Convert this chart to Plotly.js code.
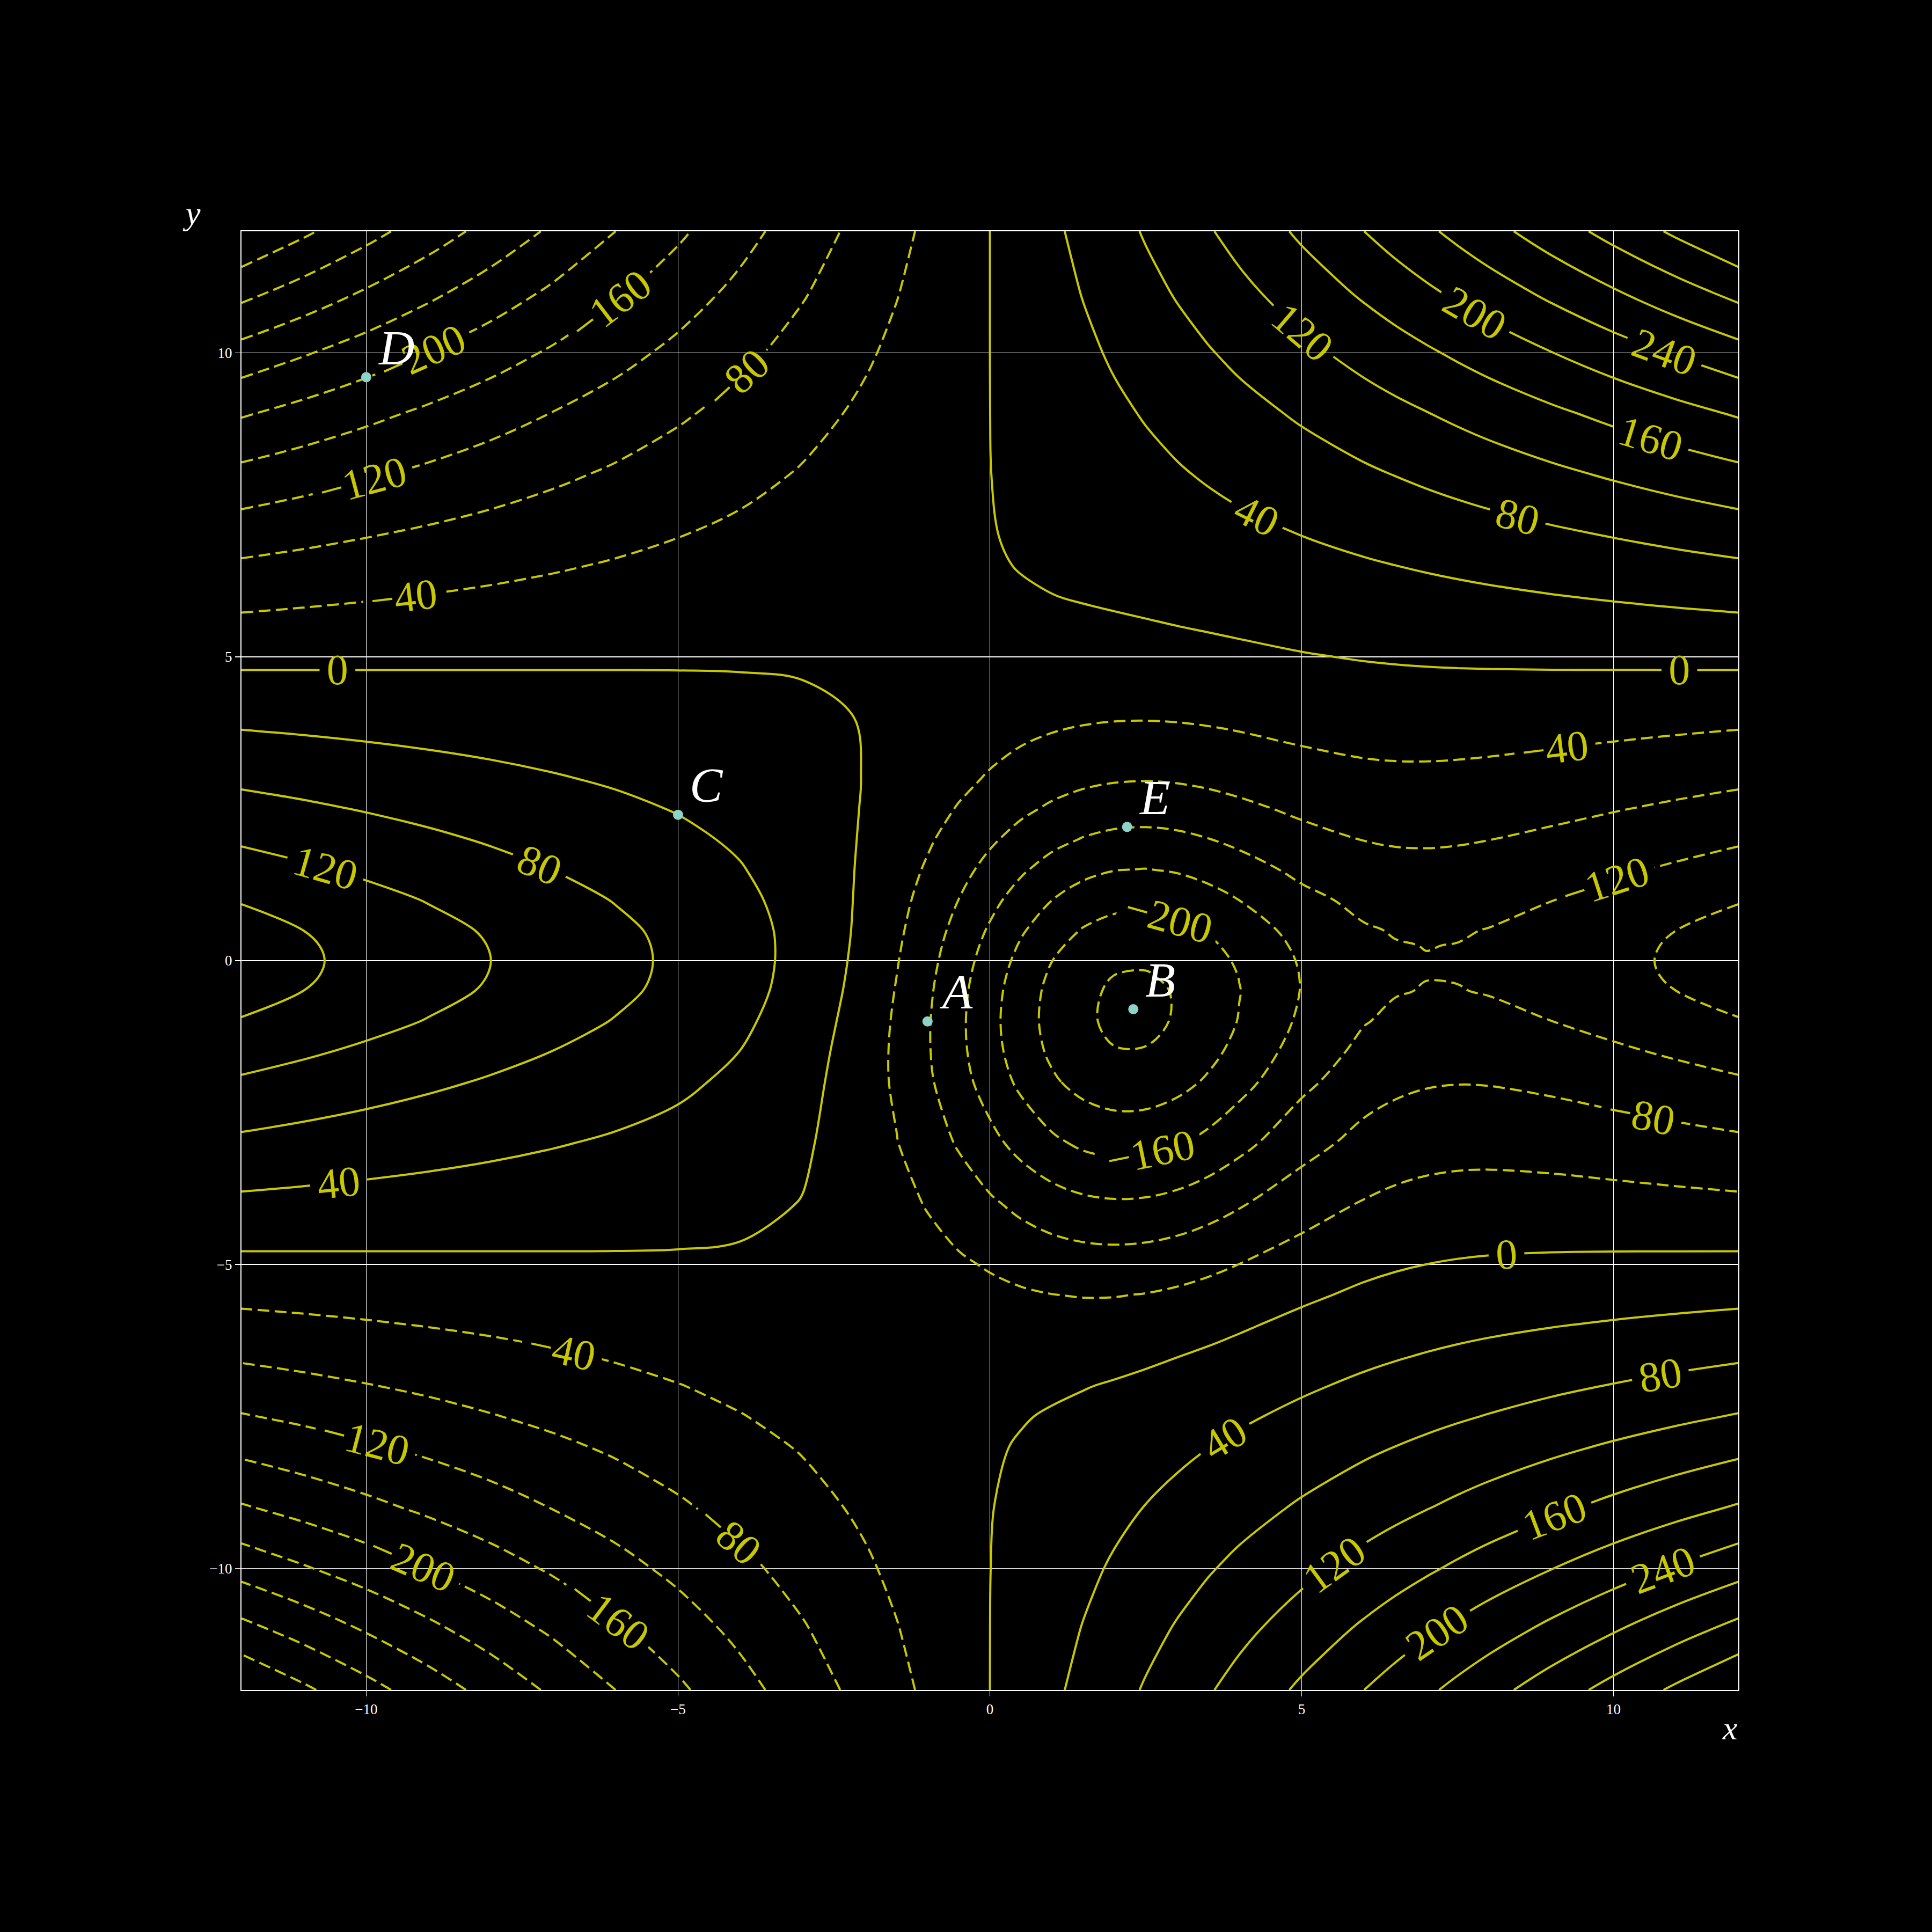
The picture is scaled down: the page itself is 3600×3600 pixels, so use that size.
<!DOCTYPE html>
<html>
<head>
<meta charset="utf-8">
<script src="https://cdn.plot.ly/plotly-3.0.1.min.js"></script>
<style>html,body{margin:0;padding:0;background:#000;}</style>
</head>
<body>
<div id="chart" style="width:3600px;height:3600px;"></div>
<script>
// Grid of sample positions (x columns, y rows)
const xs = [-12,-11,-10,-9,-8,-7,-6,-5,-4,-3,-2,-1.5,-1,-0.5,0,0.5,1,1.5,2,2.5,3,3.5,4,5,6,6.5,7,7.5,8,9,10,11,12];
const ys = [-12,-11,-10,-9,-8,-7.5,-7,-6.5,-6,-5.5,-5,-4,-3,-2,-1.5,-1,-0.5,-0.25,0,0.25,0.5,1,1.5,2,2.5,3,4,5,5.5,6,6.5,7,8,9,10,11,12];
// Surface values estimated from the contour map (one row per y)
const z = [
[-399.96,-366.63,-333.3,-299.97,-266.64,-233.31,-199.98,-166.65,-133.32,-99.99,-66.66,-50.0,-33.33,-16.68,-0.01,16.65,33.32,49.98,66.64,83.31,99.97,116.64,133.31,166.64,199.98,216.65,233.31,249.97,266.64,299.97,333.3,366.63,399.96],
[-331.8,-304.15,-276.5,-248.85,-221.2,-193.55,-165.9,-138.25,-110.6,-82.95,-55.3,-41.51,-27.69,-13.88,-0.07,13.75,27.56,41.38,55.2,69.03,82.86,96.7,110.53,138.21,165.88,179.72,193.55,207.37,221.2,248.85,276.5,304.15,331.8],
[-265.44,-243.32,-221.2,-199.08,-176.96,-154.84,-132.72,-110.6,-88.48,-66.4,-44.33,-33.31,-22.3,-11.29,-0.29,10.71,21.73,32.76,43.81,54.88,65.97,77.08,88.19,110.43,132.64,143.73,154.81,165.88,176.95,199.08,221.2,243.32,265.44],
[-203.64,-186.67,-169.7,-152.73,-135.77,-118.79,-101.82,-84.86,-67.92,-51.04,-34.26,-25.93,-17.62,-9.35,-1.08,7.2,15.52,23.9,32.34,40.87,49.47,58.13,66.82,84.21,101.51,110.1,118.66,127.2,135.72,152.72,169.7,186.67,203.64],
[-149.28,-136.84,-124.4,-111.96,-99.52,-87.08,-74.65,-62.24,-49.9,-37.73,-25.9,-20.15,-14.51,-8.95,-3.42,2.15,7.84,13.7,19.81,26.16,32.75,39.52,46.4,60.18,73.65,80.22,86.68,93.07,99.39,111.93,124.39,136.84,149.28],
[-122.64,-112.42,-102.2,-91.98,-81.76,-71.54,-61.33,-51.16,-41.11,-31.36,-22.16,-17.84,-13.7,-9.69,-5.74,-1.73,2.48,7.0,11.91,17.25,22.98,29.02,35.23,47.7,59.65,65.35,70.87,76.26,81.54,91.92,102.19,112.42,122.64],
[-98.04,-89.87,-81.7,-73.53,-65.37,-57.19,-49.04,-40.95,-33.05,-25.64,-19.13,-16.32,-13.79,-11.5,-9.29,-6.97,-4.35,-1.21,2.55,7.01,12.09,17.68,23.55,35.36,46.32,51.36,56.11,60.65,65.0,73.44,81.68,89.87,98.04],
[-74.28,-68.09,-61.9,-55.71,-49.52,-43.34,-37.17,-31.11,-25.34,-20.32,-16.71,-15.61,-14.94,-14.64,-14.46,-14.11,-13.29,-11.68,-9.09,-5.42,-0.77,4.67,10.54,22.4,32.94,37.51,41.65,45.44,48.97,55.56,61.87,68.08,74.28],
[-51.96,-47.63,-43.3,-38.97,-34.64,-30.32,-26.03,-21.89,-18.19,-15.62,-15.15,-15.97,-17.44,-19.45,-21.65,-23.61,-24.85,-24.92,-23.5,-20.47,-15.97,-10.31,-3.98,8.84,19.69,24.07,27.79,31.0,33.81,38.75,43.25,47.62,51.96],
[-30.12,-27.61,-25.1,-22.59,-20.08,-17.58,-15.13,-12.89,-11.29,-11.31,-14.37,-17.41,-21.4,-26.15,-31.19,-35.88,-39.53,-41.49,-41.31,-38.81,-34.19,-27.9,-20.64,-5.9,6.0,10.44,13.94,16.7,18.89,22.27,25.03,27.6,30.12],
[-8.88,-8.14,-7.4,-6.66,-5.92,-5.2,-4.54,-4.17,-4.7,-7.47,-14.45,-20.02,-26.94,-34.9,-43.26,-51.14,-57.56,-61.66,-62.78,-60.69,-55.65,-48.29,-39.6,-21.89,-8.12,-3.35,0.14,2.59,4.27,6.22,7.3,8.12,8.88],
[31.92,29.26,26.6,23.94,21.28,18.59,15.78,12.5,7.67,-1.01,-16.9,-28.41,-42.23,-57.82,-74.11,-89.58,-102.54,-111.53,-115.41,-113.79,-107.11,-96.48,-83.55,-57.14,-37.48,-31.27,-27.25,-25.02,-24.11,-24.7,-26.77,-29.29,-31.92],
[72.36,66.33,60.3,54.27,48.23,42.16,35.92,28.97,19.75,4.88,-20.59,-38.55,-59.91,-83.87,-108.87,-132.66,-152.76,-167.02,-173.78,-172.46,-163.72,-149.16,-131.23,-94.55,-67.79,-59.74,-54.89,-52.68,-52.4,-55.39,-60.54,-66.37,-72.37],
[114.84,105.27,95.7,86.13,76.55,66.93,57.09,46.36,32.78,12.07,-21.98,-45.6,-73.49,-104.66,-137.14,-168.09,-194.4,-213.36,-222.86,-222.19,-212.15,-194.81,-173.2,-128.97,-97.24,-88.08,-82.96,-81.16,-81.8,-87.54,-96.01,-105.33,-114.85],
[136.32,124.96,113.6,102.24,90.87,79.46,67.81,55.23,39.61,16.45,-20.85,-46.48,-76.64,-110.27,-145.29,-178.68,-207.17,-227.86,-238.54,-238.43,-228.42,-210.65,-188.37,-142.74,-110.34,-101.25,-96.44,-95.14,-96.43,-103.73,-113.93,-125.02,-136.33],
[157.56,144.43,131.3,118.17,105.03,91.85,78.43,64.04,46.58,21.42,-18.15,-45.05,-76.57,-111.63,-148.1,-182.92,-212.73,-234.6,-246.26,-246.93,-237.49,-220.16,-198.22,-153.25,-121.78,-113.29,-109.16,-108.61,-110.7,-119.69,-131.63,-144.49,-157.57],
[174.36,159.83,145.3,130.77,116.23,101.65,86.83,71.08,52.29,25.96,-14.51,-41.72,-73.47,-108.68,-145.29,-180.27,-210.34,-232.62,-244.88,-246.36,-237.93,-221.75,-201.05,-158.59,-129.36,-121.86,-118.63,-118.92,-121.79,-132.26,-145.63,-159.89,-174.37],
[178.56,163.68,148.8,133.92,119.03,104.1,88.94,72.86,53.83,27.43,-12.77,-39.69,-71.03,-105.76,-141.84,-176.33,-206.04,-228.13,-240.45,-242.24,-234.36,-218.91,-199.06,-158.3,-130.46,-123.48,-120.68,-121.3,-124.46,-135.38,-149.12,-163.74,-178.57],
[180,165,150,135,119.99,104.94,89.67,73.51,54.5,28.36,-11.12,-37.46,-68.06,-101.95,-137.14,-170.8,-199.83,-221.5,-233.72,-235.76,-228.44,-213.81,-194.92,-156.12,-129.82,-123.37,-120.97,-121.88,-125.24,-136.41,-150.31,-165.06,-180.01],
[178.56,163.68,148.8,133.92,119.03,104.1,88.97,72.98,54.25,28.7,-9.62,-35.1,-64.67,-97.38,-131.34,-163.83,-191.89,-212.89,-224.86,-227.07,-220.32,-206.56,-188.73,-152.08,-127.41,-121.5,-119.46,-120.58,-124.06,-135.27,-149.09,-163.73,-178.57],
[174.36,159.83,145.3,130.77,116.23,101.66,86.88,71.3,53.12,28.48,-8.29,-32.66,-60.92,-92.15,-124.57,-155.6,-182.41,-202.55,-214.1,-216.41,-210.21,-197.38,-180.67,-146.33,-123.35,-117.95,-116.22,-117.5,-121.0,-132.05,-145.58,-159.88,-174.37],
[157.56,144.43,131.3,118.17,105.03,91.86,78.52,64.47,48.15,26.18,-6.39,-27.9,-52.81,-80.32,-108.87,-136.21,-159.86,-177.67,-187.98,-190.21,-185.02,-174.01,-159.63,-130.05,-110.39,-105.89,-104.59,-105.93,-109.2,-119.29,-131.54,-144.47,-157.57],
[136.32,124.96,113.6,102.24,90.87,79.48,67.94,55.81,41.77,22.97,-4.74,-23.0,-44.1,-67.4,-91.57,-114.72,-134.77,-149.91,-158.75,-160.78,-156.56,-147.47,-135.53,-110.96,-94.75,-91.12,-90.19,-91.46,-94.38,-103.18,-113.81,-125.0,-136.33],
[114.84,105.27,95.7,86.13,76.56,66.96,57.24,47.05,35.31,19.72,-3.08,-18.04,-35.32,-54.36,-74.11,-93.04,-109.45,-121.9,-129.23,-131.07,-127.84,-120.67,-111.19,-91.69,-78.94,-76.19,-75.62,-76.85,-79.39,-86.89,-95.87,-105.3,-114.84],
[93.36,85.58,77.8,70.02,62.24,54.44,46.54,38.27,28.81,16.34,-1.75,-13.56,-27.18,-42.17,-57.72,-72.61,-85.56,-95.42,-101.29,-102.89,-100.54,-95.12,-87.9,-73.04,-63.44,-61.46,-61.18,-62.3,-64.45,-70.61,-77.93,-85.6,-93.36],
[72.36,66.33,60.3,54.27,48.24,42.19,36.08,29.68,22.39,12.84,-0.91,-9.86,-20.17,-31.51,-43.26,-54.53,-64.33,-71.82,-76.32,-77.62,-75.96,-71.99,-66.68,-55.74,-48.74,-47.36,-47.25,-48.19,-49.89,-54.71,-60.4,-66.35,-72.36],
[31.92,29.26,26.6,23.94,21.28,18.61,15.91,13.07,9.77,5.35,-1.17,-5.48,-10.45,-15.95,-21.65,-27.11,-31.84,-35.41,-37.48,-37.95,-36.94,-34.78,-31.94,-26.11,-22.25,-21.38,-21.14,-21.43,-22.11,-24.16,-26.65,-29.27,-31.92],
[-8.88,-8.14,-7.4,-6.66,-5.92,-5.18,-4.46,-3.8,-3.33,-3.35,-4.27,-5.17,-6.36,-7.78,-9.29,-10.69,-11.78,-12.36,-12.31,-11.57,-10.2,-8.33,-6.18,-1.79,1.74,3.06,4.1,4.92,5.57,6.57,7.38,8.14,8.88],
[-30.12,-27.61,-25.1,-22.59,-20.08,-17.57,-15.07,-12.61,-10.27,-8.23,-6.74,-6.28,-5.99,-5.84,-5.74,-5.58,-5.23,-4.56,-3.51,-2.02,-0.15,2.04,4.39,9.15,13.39,15.24,16.9,18.44,19.86,22.53,25.09,27.61,30.12],
[-51.96,-47.63,-43.3,-38.97,-34.64,-30.31,-25.99,-21.69,-17.46,-13.4,-9.68,-7.99,-6.4,-4.9,-3.42,-1.9,-0.27,1.54,3.59,5.89,8.42,11.14,13.96,19.63,24.99,27.51,29.91,32.25,34.51,38.94,43.29,47.63,51.96],
[-74.28,-68.09,-61.9,-55.71,-49.52,-43.33,-37.14,-30.97,-24.84,-18.81,-12.97,-10.14,-7.37,-4.66,-1.96,0.77,3.55,6.45,9.47,12.65,15.95,19.37,22.84,29.79,36.57,39.87,43.1,46.3,49.45,55.69,61.9,68.09,74.28],
[-98.04,-89.87,-81.7,-73.53,-65.36,-57.19,-49.02,-40.86,-32.72,-24.64,-16.66,-12.73,-8.82,-4.95,-1.08,2.81,6.72,10.7,14.74,18.87,23.07,27.33,31.62,40.21,48.71,52.91,57.06,61.21,65.32,73.52,81.7,89.87,98.04],
[-149.28,-136.84,-124.4,-111.96,-99.52,-87.08,-74.64,-62.2,-49.76,-37.36,-24.97,-18.79,-12.62,-6.45,-0.29,5.87,12.05,18.24,24.45,30.68,36.93,43.2,49.47,62.03,74.56,80.81,87.05,93.28,99.51,111.96,124.4,136.84,149.28],
[-203.64,-186.67,-169.7,-152.73,-135.76,-118.79,-101.82,-84.85,-67.88,-50.91,-33.95,-25.49,-17.01,-8.54,-0.07,8.41,16.88,25.36,33.84,42.33,50.82,59.32,67.81,84.81,101.8,110.3,118.79,127.28,135.76,152.73,169.7,186.67,203.64],
[-265.44,-243.32,-221.2,-199.08,-176.96,-154.84,-132.72,-110.6,-88.48,-66.36,-44.24,-33.19,-22.13,-11.07,-0.01,11.04,22.1,33.16,44.22,55.28,66.34,77.4,88.47,110.59,132.72,143.78,154.84,165.9,176.96,199.08,221.2,243.32,265.44],
[-331.8,-304.15,-276.5,-248.85,-221.2,-193.55,-165.9,-138.25,-110.6,-82.95,-55.3,-41.48,-27.65,-13.83,-0.01,13.82,27.65,41.48,55.3,69.13,82.95,96.77,110.6,138.25,165.9,179.73,193.55,207.38,221.2,248.85,276.5,304.15,331.8],
[-399.96,-366.63,-333.3,-299.97,-266.64,-233.31,-199.98,-166.65,-133.32,-99.99,-66.66,-50.0,-33.33,-16.67,-0.01,16.66,33.33,50.0,66.66,83.33,99.99,116.66,133.32,166.65,199.98,216.65,233.31,249.98,266.64,299.97,333.3,366.63,399.96]
];
// Contour levels
const negStart = -400, negEnd = -40, posStart = 0, posEnd = 400, levelStep = 40;
// Marked points
const pointNames = ['A','B','C','D','E'];
const pointX = [-1, 2.3, -5, -10, 2.2];
const pointY = [-1, -0.8, 2.4, 9.6, 2.2];
// Axis ticks
const tickVals = [-10,-5,0,5,10];
const tickText = ['\u221210','\u22125','0','5','10'];

const lineColor = '#c8c800';
const serif = 'Liberation Serif, DejaVu Serif, serif';
const labelFont = {family: serif, size: 80, color: lineColor};

const negTrace = {
  type: 'contour', x: xs, y: ys, z: z, hoverinfo: 'skip', showscale: false,
  autocontour: false,
  contours: {start: negStart, end: negEnd, size: levelStep, coloring: 'none',
             showlabels: true, labelfont: labelFont},
  line: {color: lineColor, width: 4, dash: '22px,10px', smoothing: 1.0}
};
const posTrace = {
  type: 'contour', x: xs, y: ys, z: z, hoverinfo: 'skip', showscale: false,
  autocontour: false,
  contours: {start: posStart, end: posEnd, size: levelStep, coloring: 'none',
             showlabels: true, labelfont: labelFont},
  line: {color: lineColor, width: 4, smoothing: 1.0}
};
const ptTrace = {
  type: 'scatter', mode: 'markers', x: pointX, y: pointY, hoverinfo: 'skip',
  marker: {size: 19, color: '#8dd3c7', line: {width: 0}}
};

const annotations = pointNames.map((n, i) => ({
  x: pointX[i], y: pointY[i], xref: 'x', yref: 'y', text: n, showarrow: false,
  xanchor: 'left', yanchor: 'bottom', xshift: 20, yshift: 2,
  font: {family: serif, size: 92, color: '#ffffff', style: 'italic'}
}));
annotations.push({
  xref: 'paper', yref: 'paper', x: -0.0333, y: 0.9993, text: 'y', showarrow: false,
  xanchor: 'center', yanchor: 'bottom',
  font: {family: serif, size: 62, color: '#ffffff', style: 'italic'}
});
annotations.push({
  xref: 'paper', yref: 'paper', x: 0.9943, y: -0.0394, text: 'x', showarrow: false,
  xanchor: 'center', yanchor: 'bottom',
  font: {family: serif, size: 62, color: '#ffffff', style: 'italic'}
});

const axisCommon = {
  range: [-12, 12], tickmode: 'array', tickvals: tickVals, ticktext: tickText,
  showgrid: true, gridcolor: '#ffffff', gridwidth: 1.6, zeroline: false,
  showline: true, linecolor: '#ffffff', linewidth: 2.2, mirror: true,
  ticks: 'outside', ticklen: 10, tickwidth: 1.8, tickcolor: '#ffffff',
  tickfont: {family: serif, size: 27, color: '#ffffff'}, fixedrange: true
};

const layout = {
  width: 3600, height: 3600,
  margin: {l: 450, r: 361, t: 431, b: 451, pad: 0},
  paper_bgcolor: '#000000', plot_bgcolor: '#000000',
  showlegend: false,
  xaxis: Object.assign({}, axisCommon),
  yaxis: Object.assign({}, axisCommon),
  annotations: annotations
};

Plotly.newPlot('chart', [negTrace, posTrace, ptTrace], layout, {staticPlot: true, displayModeBar: false});
</script>
</body>
</html>
